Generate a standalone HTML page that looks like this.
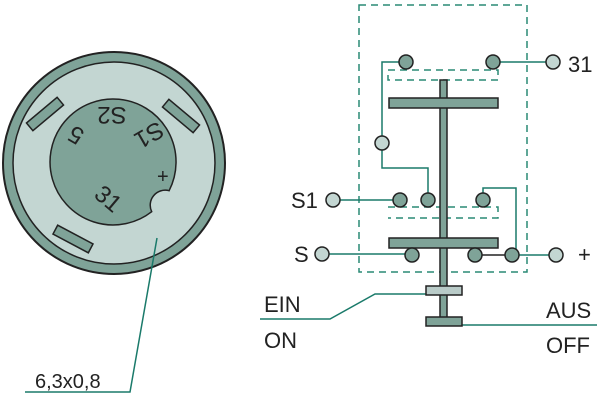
<!DOCTYPE html>
<html><head><style>body{margin:0;background:#fff}svg{display:block}text{font-family:"Liberation Sans",sans-serif;fill:#222}</style></head><body>
<svg width="600" height="402" viewBox="0 0 600 402">
<circle cx="114" cy="163" r="111" fill="#7fa398" stroke="#222" stroke-width="2"/>
<circle cx="114" cy="163" r="101" fill="#c3d6d2" stroke="#222" stroke-width="1.5"/>
<g fill="#7fa398" stroke="#222" stroke-width="1.5">
<rect x="-20" y="-5" width="40" height="10" transform="translate(45,114) rotate(-40)"/>
<rect x="-20" y="-5" width="40" height="10" transform="translate(181,116) rotate(40)"/>
<rect x="-20" y="-5" width="40" height="10" transform="translate(73,239) rotate(28)"/>
<path d="M169.1 190.7 A63 63 0 1 0 151.7 211.7 A15 15 0 0 1 169.1 190.7 Z"/>
</g>
<g font-size="24">
<text x="0" y="0" transform="translate(80,128) rotate(210)" text-anchor="middle">5</text>
<text x="0" y="0" transform="translate(112,107) rotate(180)" text-anchor="middle">S2</text>
<text x="0" y="0" transform="translate(145,128) rotate(150)" text-anchor="middle">S1</text>
<text x="0" y="0" transform="translate(103,205) rotate(40)" text-anchor="middle">31</text>
<text x="157" y="183" font-size="20">+</text>
</g>
<polyline points="157,238 130,392 25,392" fill="none" stroke="#1a7a6a" stroke-width="1.5"/>
<text x="35" y="388" font-size="20">6,3x0,8</text>
<g fill="none" stroke="#2a8a75" stroke-width="1.5" stroke-dasharray="7,5">
<rect x="359" y="5" width="168" height="267"/>
<polyline points="388,70 498,70 498,80 388,80 388,70"/>
<polyline points="388,207 498,207 498,218 388,218"/>
</g>
<g fill="none" stroke="#1a7a6a" stroke-width="1.5">
<polyline points="493,62 553,62"/>
<polyline points="406,62 382,62 382,168 428,168 428,200"/>
<polyline points="333,200 400,200"/>
<polyline points="483,200 483,188 516,188 516,255"/>
<polyline points="322,254 412,254"/>
<polyline points="512,255 556,255"/>
<polyline points="260,319 330,319 375,294 426,294"/>
<polyline points="462,325 597,325"/>
</g>
<line x1="475" y1="255" x2="512" y2="255" stroke="#222" stroke-width="1.5"/>
<g stroke="#222" stroke-width="1.5">
<rect x="440" y="80" width="7" height="242" fill="#7fa398"/>
<rect x="389" y="98" width="109" height="10" fill="#7fa398"/>
<rect x="389" y="238" width="109" height="10" fill="#7fa398"/>
<rect x="426" y="286" width="36" height="9" fill="#b9cbc8"/>
<rect x="426" y="317" width="36" height="9" fill="#7fa398"/>
<g fill="#7fa398">
<circle cx="406" cy="62" r="7"/><circle cx="493" cy="62" r="7"/>
<circle cx="400" cy="200" r="7"/><circle cx="428" cy="200" r="7"/><circle cx="483" cy="200" r="7"/>
<circle cx="412" cy="255" r="7"/><circle cx="475" cy="255" r="7"/><circle cx="512" cy="255" r="7"/>
</g>
<g fill="#c3d6d2">
<circle cx="553" cy="62" r="7"/><circle cx="382" cy="143" r="7"/>
<circle cx="333" cy="200" r="7"/><circle cx="322" cy="254" r="7"/><circle cx="556" cy="255" r="7"/>
</g>
</g>
<g font-size="22">
<text x="568" y="72">31</text>
<text x="291" y="208">S1</text>
<text x="294" y="262">S</text>
<text x="578" y="262">+</text>
<text x="264" y="312">EIN</text>
<text x="264" y="348">ON</text>
<text x="546" y="318">AUS</text>
<text x="546" y="353">OFF</text>
</g>
</svg>
</body></html>
